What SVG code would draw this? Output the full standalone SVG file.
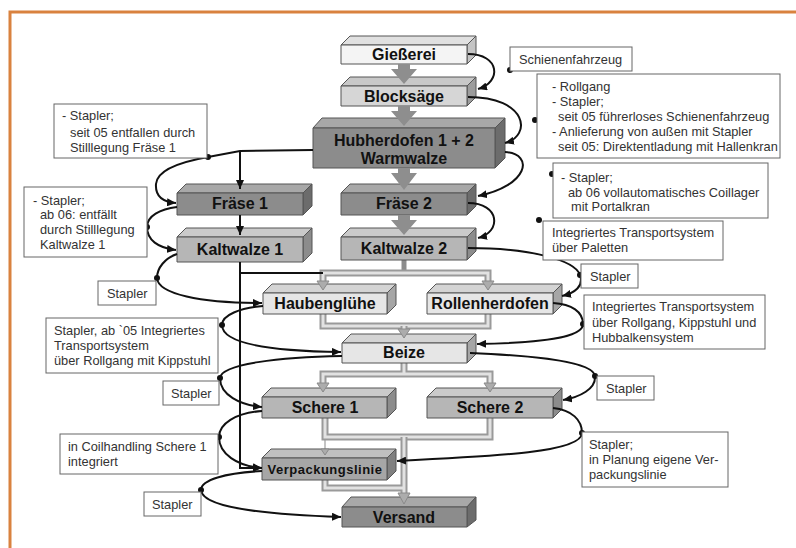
<svg xmlns="http://www.w3.org/2000/svg" width="796" height="548" viewBox="0 0 796 548">
<style>
text{font-family:"Liberation Sans",Arial,Helvetica,sans-serif}
.bl{font-size:16px;font-weight:bold;fill:#111;text-anchor:middle}
.vp{font-size:13px;font-weight:bold;fill:#111;text-anchor:middle;letter-spacing:0.5px}
.lb{font-size:12.8px;fill:#333}
.note{fill:#fff;stroke:#666;stroke-width:1}
.box polygon,.box rect{stroke:#555;stroke-width:1;stroke-linejoin:round}
.vlight .fr{fill:#f4f4f4}.vlight .tp{fill:#e0e0e0}.vlight .sd{fill:#c4c4c4}
.lmed .fr{fill:#d6d6d6}.lmed .tp{fill:#c8c8c8}.lmed .sd{fill:#9c9c9c}
.light .fr{fill:#e6e6e6}.light .tp{fill:#d4d4d4}.light .sd{fill:#a6a6a6}
.med .fr{fill:#b6b6b6}.med .tp{fill:#cacaca}.med .sd{fill:#8c8c8c}
.vmed .fr{fill:#a6a6a6}.vmed .tp{fill:#c0c0c0}.vmed .sd{fill:#808080}
.dark .fr{fill:#8c8c8c}.dark .tp{fill:#a8a8a8}.dark .sd{fill:#6c6c6c}
.big{fill:#8e8e8e}
.po{fill:none;stroke:#9a9a9a;stroke-width:7}
.pi{fill:none;stroke:#e2e2e2;stroke-width:3}
.ph{fill:#acacac;stroke:#8a8a8a;stroke-width:1}
.cn{fill:none;stroke:#111;stroke-width:2}
.dot{fill:#111}
</style>
<defs>
<marker id="ah" markerWidth="9" markerHeight="8" refX="9" refY="4" orient="auto" markerUnits="userSpaceOnUse"><path d="M0,0 L9,4 L0,8 z" fill="#111"/></marker>
</defs>
<rect width="796" height="548" fill="#fff"/>
<g id="frame" fill="none" stroke="#d9823f" stroke-width="3">
<path d="M10,548 V12 H796"/>
</g>

<!-- grey material-flow pipes -->
<g id="flow">
<path d="M404,260 V271" fill="none" stroke="#8c8c8c" stroke-width="5"/>
<path class="po" d="M323,283 V273 H488 V283"/>
<path class="pi" d="M323,283 V273 H488 V283"/>
<path class="po" d="M323,314 V326 H488 V314"/>
<path class="pi" d="M323,314 V326 H488 V314"/>
<path class="po" d="M404,326 V331"/>
<path class="pi" d="M404,326 V331"/>
<path class="po" d="M404,363 V374"/>
<path class="po" d="M323,385 V374 H490 V385"/>
<path class="pi" d="M323,385 V374 H490 V385"/>
<path class="pi" d="M404,363 V374"/>
<path d="M325,437 V452" fill="none" stroke="#c4c4c4" stroke-width="2"/>
<path class="po" d="M325,418 V437 H490 V418"/>
<path class="pi" d="M325,418 V437 H490 V418"/>
<path class="po" d="M325,480 V488 H404"/>
<path class="po" d="M404,437 V494"/>
<path class="pi" d="M325,480 V488 H404"/>
<path class="pi" d="M404,437 V494"/>
</g>

<!-- nodes -->
<g id="giesserei" class="box vlight">
<polygon class="tp" points="341,45 350,36 476,36 467,45"/><polygon class="sd" points="467,45 476,36 476,55 467,64"/><rect class="fr" x="341" y="45" width="126" height="19"/>
<text class="bl" x="404" y="60">Gießerei</text></g>
<g id="blocksaege" class="box lmed">
<polygon class="tp" points="341,86 350,77 476,77 467,86"/><polygon class="sd" points="467,86 476,77 476,97 467,106"/><rect class="fr" x="341" y="86" width="126" height="20"/>
<text class="bl" x="404" y="102">Blocksäge</text></g>
<g id="hubherdofen" class="box dark">
<polygon class="tp" points="313,128 322,118 505,118 495,128"/><polygon class="sd" points="495,128 505,118 505,158 495,168"/><rect class="fr" x="313" y="128" width="182" height="40"/>
<text class="bl" x="404" y="146">Hubherdofen 1 + 2</text><text class="bl" x="404" y="164">Warmwalze</text></g>
<g id="fraese1" class="box dark">
<polygon class="tp" points="177,193 186,184 312,184 303,193"/><polygon class="sd" points="303,193 312,184 312,206 303,215"/><rect class="fr" x="177" y="193" width="126" height="22"/>
<text class="bl" x="240" y="209">Fräse 1</text></g>
<g id="fraese2" class="box dark">
<polygon class="tp" points="341,193 350,184 476,184 467,193"/><polygon class="sd" points="467,193 476,184 476,206 467,215"/><rect class="fr" x="341" y="193" width="126" height="22"/>
<text class="bl" x="404" y="209">Fräse 2</text></g>
<g id="kaltwalze1" class="box med">
<polygon class="tp" points="177,237 186,228 312,228 303,237"/><polygon class="sd" points="303,237 312,228 312,253 303,262"/><rect class="fr" x="177" y="237" width="126" height="25"/>
<text class="bl" x="240" y="255">Kaltwalze 1</text></g>
<g id="kaltwalze2" class="box med">
<polygon class="tp" points="341,237 350,228 476,228 467,237"/><polygon class="sd" points="467,237 476,228 476,251 467,260"/><rect class="fr" x="341" y="237" width="126" height="23"/>
<text class="bl" x="404" y="254">Kaltwalze 2</text></g>
<g id="haubengluehe" class="box light">
<polygon class="tp" points="263,293 272,284 396,284 387,293"/><polygon class="sd" points="387,293 396,284 396,305 387,314"/><rect class="fr" x="263" y="293" width="124" height="21"/>
<text class="bl" x="325" y="309">Haubenglühe</text></g>
<g id="rollenherdofen" class="box light">
<polygon class="tp" points="427,293 436,284 562,284 553,293"/><polygon class="sd" points="553,293 562,284 562,305 553,314"/><rect class="fr" x="427" y="293" width="126" height="21"/>
<text class="bl" x="490" y="309">Rollenherdofen</text></g>
<g id="beize" class="box light">
<polygon class="tp" points="342,343 351,334 476,334 467,343"/><polygon class="sd" points="467,343 476,334 476,354 467,363"/><rect class="fr" x="342" y="343" width="125" height="20"/>
<text class="bl" x="404" y="358">Beize</text></g>
<g id="schere1" class="box med">
<polygon class="tp" points="262,397 271,388 396,388 387,397"/><polygon class="sd" points="387,397 396,388 396,409 387,418"/><rect class="fr" x="262" y="397" width="125" height="21"/>
<text class="bl" x="325" y="413">Schere 1</text></g>
<g id="schere2" class="box med">
<polygon class="tp" points="427,397 436,388 562,388 553,397"/><polygon class="sd" points="553,397 562,388 562,409 553,418"/><rect class="fr" x="427" y="397" width="126" height="21"/>
<text class="bl" x="490" y="413">Schere 2</text></g>
<g id="verpackungslinie" class="box vmed">
<polygon class="tp" points="262,458 271,449 396,449 387,458"/><polygon class="sd" points="387,458 396,449 396,471 387,480"/><rect class="fr" x="262" y="458" width="125" height="22"/>
<text class="vp" x="325" y="474">Verpackungslinie</text></g>
<g id="versand" class="box dark">
<polygon class="tp" points="342,507 351,497 476,497 467,507"/><polygon class="sd" points="467,507 476,497 476,520 467,527"/><rect class="fr" x="342" y="507" width="125" height="20"/>
<text class="bl" x="404" y="523">Versand</text></g>

<!-- big grey flow arrows and pipe heads -->
<g id="flowheads">
<polygon class="big" points="398,64 410,64 410,69 417,69 404,84 391,69 398,69"/>
<polygon class="big" points="398,106 410,106 410,111 417,111 404,126 391,111 398,111"/>
<polygon class="big" points="398,168 410,168 410,173 417,173 404,190 391,173 398,173"/>
<polygon class="big" points="398,215 410,215 410,220 417,220 404,235 391,220 398,220"/>
<polygon class="ph" points="317,281 329,281 323,290"/>
<polygon class="ph" points="482,281 494,281 488,290"/>
<polygon class="ph" points="398,329 410,329 404,338"/>
<polygon class="ph" points="317,383 329,383 323,392"/>
<polygon class="ph" points="484,383 496,383 490,392"/>
<polygon class="ph" points="321,449 329,449 325,455" fill="#c4c4c4" stroke="#aaa"/>
<polygon class="ph" points="398,493 410,493 404,504"/>
</g>

<!-- transport connectors -->
<g id="connectors">
<path class="cn" d="M468,54 C500,54 502,82 478,89" marker-end="url(#ah)"/>
<path class="cn" d="M468,97 C528,97 532,136 505,143" marker-end="url(#ah)"/>
<path class="cn" d="M505,152 C535,154 528,186 478,196" marker-end="url(#ah)"/>
<path class="cn" d="M468,203 C500,203 502,232 478,238" marker-end="url(#ah)"/>
<path class="cn" d="M468,248 C530,248 575,260 580,275 C584,286 575,293 562,296" marker-end="url(#ah)"/>
<path class="cn" d="M553,303 C572,304 583,312 583,324 C583,338 540,343 477,344" marker-end="url(#ah)"/>
<path class="cn" d="M470,353 C540,356 593,362 595,376 C596,389 580,397 563,400" marker-end="url(#ah)"/>
<path class="cn" d="M553,408 C572,410 582,420 582,433 C582,452 500,456 397,461" marker-end="url(#ah)"/>
<path class="cn" d="M313,150 L240,151 L208,157 C180,162 157,170 156,184 C155,197 163,202 176,203" marker-end="url(#ah)"/>
<path class="cn" d="M177,207 C160,209 147,216 147,227 C147,240 158,248 176,250" marker-end="url(#ah)"/>
<path class="cn" d="M177,254 C165,258 157,268 157,278 C158,294 200,303 262,303" marker-end="url(#ah)"/>
<path class="cn" d="M263,306 C240,308 222,315 222,325 C222,342 262,351 341,352" marker-end="url(#ah)"/>
<path class="cn" d="M342,356 C280,357 221,364 220,378 C220,395 240,405 262,407" marker-end="url(#ah)"/>
<path class="cn" d="M262,411 C235,413 219,424 219,437 C219,454 237,466 262,468" marker-end="url(#ah)"/>
<path class="cn" d="M262,471 C225,473 201,480 201,490 C202,506 252,514 341,517" marker-end="url(#ah)"/>
<path class="cn" d="M240,151 V189" stroke-width="1.6" marker-end="url(#ah)"/>
<path class="cn" d="M240,215 V235" stroke-width="1.6" marker-end="url(#ah)"/>
<path class="cn" d="M240,262 V468 H262" stroke-width="2.6" marker-end="url(#ah)"/>
<path class="cn" d="M240,273 H323"/>
<circle class="dot" cx="510" cy="70" r="3"/>
<circle class="dot" cx="535" cy="120" r="3"/>
<circle class="dot" cx="552" cy="174" r="3"/>
<circle class="dot" cx="539" cy="220" r="3"/>
<circle class="dot" cx="580" cy="275" r="3"/>
<circle class="dot" cx="583" cy="324" r="3"/>
<circle class="dot" cx="595" cy="376" r="3"/>
<circle class="dot" cx="582" cy="433" r="3"/>
<circle class="dot" cx="208" cy="157" r="3"/>
<circle class="dot" cx="147" cy="227" r="3"/>
<circle class="dot" cx="157" cy="278" r="3"/>
<circle class="dot" cx="222" cy="325" r="3"/>
<circle class="dot" cx="220" cy="378" r="3"/>
<circle class="dot" cx="219" cy="437" r="3"/>
<circle class="dot" cx="201" cy="490" r="3"/>
</g>

<!-- labels -->
<g id="n-schienenfahrzeug"><rect class="note" x="510" y="47" width="122" height="24"/><text class="lb" x="519" y="64">Schienenfahrzeug</text></g>
<g id="n-rollgang"><rect class="note" x="537" y="74" width="243" height="84"/>
<text class="lb" x="552" y="91">- Rollgang</text>
<text class="lb" x="552" y="106">- Stapler;</text>
<text class="lb" x="558" y="121">seit 05 führerloses Schienenfahrzeug</text>
<text class="lb" x="552" y="136">- Anlieferung von außen mit Stapler</text>
<text class="lb" x="558" y="151">seit 05: Direktentladung mit Hallenkran</text></g>
<g id="n-coillager"><rect class="note" x="553" y="163" width="215" height="55"/>
<text class="lb" x="561" y="182">- Stapler;</text>
<text class="lb" x="568" y="197">ab 06 vollautomatisches Coillager</text>
<text class="lb" x="571" y="211">mit Portalkran</text></g>
<g id="n-paletten"><rect class="note" x="543" y="221" width="180" height="39"/>
<text class="lb" x="552" y="237">Integriertes Transportsystem</text>
<text class="lb" x="552" y="252">über Paletten</text></g>
<g id="n-stapler-r1"><rect class="note" x="581" y="264" width="57" height="24"/><text class="lb" x="590" y="281">Stapler</text></g>
<g id="n-hubbalken"><rect class="note" x="584" y="295" width="181" height="54"/>
<text class="lb" x="592" y="311">Integriertes Transportsystem</text>
<text class="lb" x="592" y="327">über Rollgang, Kippstuhl und</text>
<text class="lb" x="592" y="342">Hubbalkensystem</text></g>
<g id="n-stapler-r2"><rect class="note" x="597" y="376" width="57" height="24"/><text class="lb" x="606" y="393">Stapler</text></g>
<g id="n-planung"><rect class="note" x="582" y="432" width="146" height="55"/>
<text class="lb" x="589" y="449">Stapler;</text>
<text class="lb" x="589" y="464">in Planung eigene Ver-</text>
<text class="lb" x="589" y="479">packungslinie</text></g>
<g id="n-fraese1"><rect class="note" x="54" y="104" width="153" height="54"/>
<text class="lb" x="62" y="120">- Stapler;</text>
<text class="lb" x="70" y="137">seit 05 entfallen durch</text>
<text class="lb" x="70" y="152">Stilllegung Fräse 1</text></g>
<g id="n-kaltwalze1"><rect class="note" x="24" y="187" width="123" height="70"/>
<text class="lb" x="33" y="205">- Stapler;</text>
<text class="lb" x="40" y="219">ab 06: entfällt</text>
<text class="lb" x="40" y="234">durch Stilllegung</text>
<text class="lb" x="40" y="249">Kaltwalze 1</text></g>
<g id="n-stapler-l1"><rect class="note" x="98" y="281" width="58" height="24"/><text class="lb" x="107" y="298">Stapler</text></g>
<g id="n-kippstuhl"><rect class="note" x="46" y="318" width="172" height="55"/>
<text class="lb" x="54" y="335">Stapler, ab `05 Integriertes</text>
<text class="lb" x="54" y="350">Transportsystem</text>
<text class="lb" x="54" y="365">über Rollgang mit Kippstuhl</text></g>
<g id="n-stapler-l2"><rect class="note" x="163" y="381" width="56" height="24"/><text class="lb" x="171" y="398">Stapler</text></g>
<g id="n-coilhandling"><rect class="note" x="60" y="434" width="158" height="40"/>
<text class="lb" x="68" y="451">in Coilhandling Schere 1</text>
<text class="lb" x="68" y="466">integriert</text></g>
<g id="n-stapler-l3"><rect class="note" x="144" y="492" width="57" height="24"/><text class="lb" x="152" y="509">Stapler</text></g>
</svg>
